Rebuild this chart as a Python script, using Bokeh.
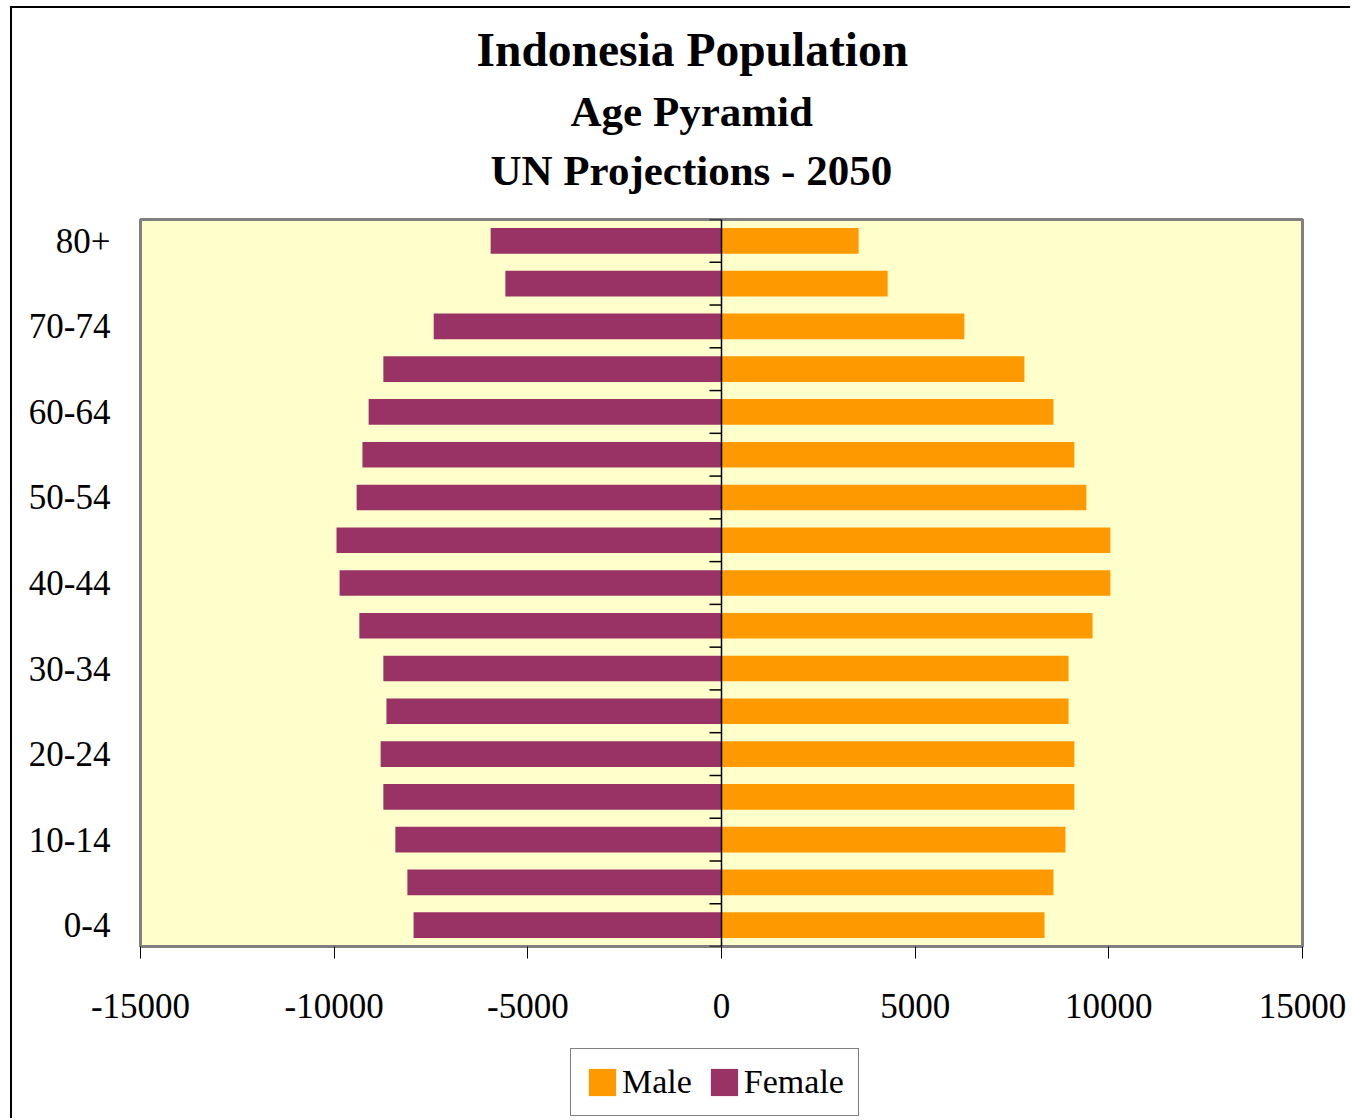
from bokeh.plotting import figure
from bokeh.layouts import column
from bokeh.models import (ColumnDataSource, Range1d, FixedTicker, Span, Title,
                          Legend, LegendItem)
from bokeh.embed import file_html
from bokeh.resources import INLINE

ages = ["0-4", "5-9", "10-14", "15-19", "20-24", "25-29", "30-34", "35-39", "40-44",
        "45-49", "50-54", "55-59", "60-64", "65-69", "70-74", "75-79", "80+"]
male = [8340, 8570, 8880, 9110, 9110, 8960, 8960, 9580, 10040,
        10040, 9420, 9110, 8570, 7820, 6270, 4290, 3540]
female = [7950, 8110, 8420, 8730, 8800, 8650, 8730, 9350, 9860,
          9940, 9420, 9270, 9110, 8730, 7430, 5580, 5960]
x_ticks = [-15000, -10000, -5000, 0, 5000, 10000, 15000]
shown_age_labels = ["0-4", "10-14", "20-24", "30-34", "40-44", "50-54", "60-64", "70-74", "80+"]

FONT = "Liberation Serif"
MALE_C = "#FF9900"
FEMALE_C = "#993366"

pos = list(range(len(ages)))
src = ColumnDataSource(dict(pos=pos, age=ages, male=male, female_neg=[-v for v in female]))

p = figure(y_range=Range1d(-0.5, len(ages) - 0.5), x_range=Range1d(-15000, 15000),
           frame_width=1162, frame_height=727,
           min_border_left=128, min_border_top=211, min_border_right=48, min_border_bottom=95,
           output_backend="svg", toolbar_location=None, tools="")
p.background_fill_color = "#FFFFCC"
p.border_fill_color = "white"
p.outline_line_color = "#808080"
p.outline_line_width = 3
p.xgrid.visible = False
p.ygrid.visible = False

r_f = p.hbar(y="pos", left="female_neg", right=0, height=0.6, source=src,
             fill_color=FEMALE_C, line_color=None)
r_m = p.hbar(y="pos", left=0, right="male", height=0.6, source=src,
             fill_color=MALE_C, line_color=None)

# center category axis line with boundary ticks
p.add_layout(Span(location=0, dimension="height", line_color="black", line_width=1.5))
bounds = [i - 0.5 for i in range(len(ages) + 1)]
p.segment(x0=[-310] * len(bounds), x1=[0] * len(bounds), y0=bounds, y1=bounds,
          line_color="black", line_width=1.5)

# x axis
xa = p.xaxis[0]
xa.ticker = FixedTicker(ticks=x_ticks)
xa.major_label_overrides = {t: str(t) for t in x_ticks}
xa.minor_tick_line_color = None
xa.major_tick_in = 0
xa.major_tick_out = 12
xa.major_tick_line_color = "black"
xa.axis_line_color = None
xa.major_label_text_font = FONT
xa.major_label_text_font_size = "35px"
xa.major_label_text_color = "black"
xa.major_label_standoff = 35

# y axis (labels only)
ya = p.yaxis[0]
ya.ticker = FixedTicker(ticks=[i for i, a in enumerate(ages) if a in shown_age_labels])
ya.major_label_overrides = {i: a for i, a in enumerate(ages)}
ya.axis_line_color = None
ya.major_tick_line_color = None
ya.minor_tick_line_color = None
ya.major_tick_out = 0
ya.major_tick_in = 0
ya.major_label_text_font = FONT
ya.major_label_text_font_size = "35px"
ya.major_label_text_color = "black"
ya.major_label_standoff = 30

# spacer above the frame, then the three title lines (closest-to-plot first)
p.add_layout(Title(text=" ", text_font_size="8px", standoff=10), "above")
titles = [("UN Projections - 2050", "43px", 350),
          ("Age Pyramid", "43px", 430),
          ("Indonesia Population", "47.5px", 336)]
for txt, fs, off in titles:
    p.add_layout(Title(text=txt, text_font=FONT, text_font_style="bold", text_font_size=fs,
                       text_color="black", align="left", offset=off, standoff=10), "above")

# legend strip below the chart (swatch renderers sit outside the strip's visible range)
p2 = figure(width=1338, height=77, min_border=0, x_range=(0, 1), y_range=(0, 1),
            x_axis_location=None, y_axis_location=None,
            output_backend="svg", toolbar_location=None, tools="")
p2.grid.visible = False
p2.outline_line_color = None
p2.background_fill_color = "white"
p2.border_fill_color = "white"
lm = p2.hbar(y=[-5], left=[0], right=[1], height=0.5, fill_color=MALE_C, line_color=None)
lf = p2.hbar(y=[-5], left=[0], right=[1], height=0.5, fill_color=FEMALE_C, line_color=None)
legend = Legend(items=[LegendItem(label="Male", renderers=[lm]),
                       LegendItem(label="Female", renderers=[lf])],
                orientation="horizontal", location=(430, 2),
                label_text_font=FONT, label_text_font_size="34px", label_text_color="black",
                glyph_width=34, glyph_height=34, label_standoff=3, spacing=15,
                padding=14, margin=0, border_line_color="black", border_line_width=1.5,
                background_fill_color="white", background_fill_alpha=1.0)
p2.add_layout(legend)

layout = column(p, p2, spacing=0)
layout.styles = {"margin-left": "10px", "margin-top": "6px",
                 "border-left": "2px solid black", "border-top": "2px solid black"}

open("out.html", "w").write(file_html(layout, INLINE))
